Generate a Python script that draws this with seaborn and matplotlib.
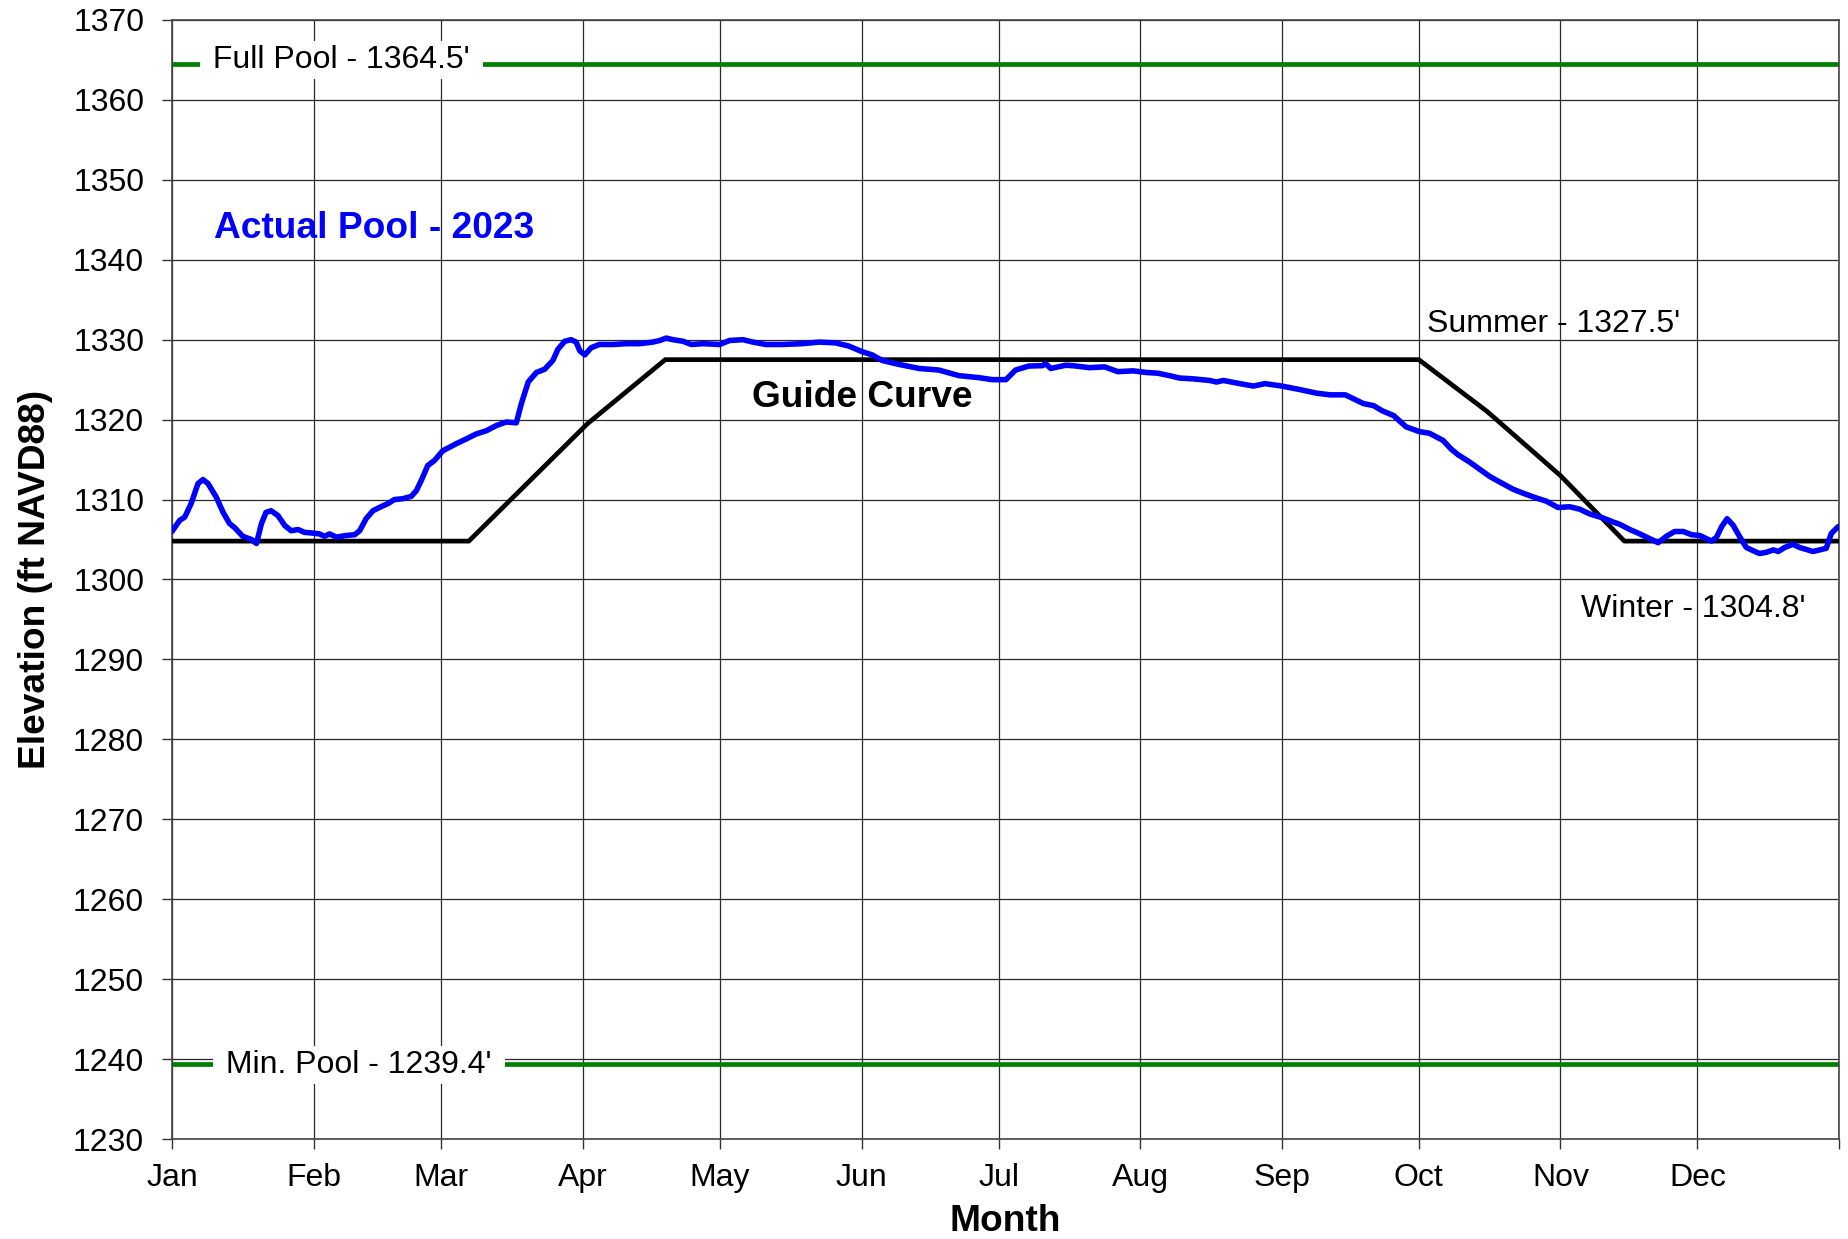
import matplotlib
matplotlib.use("Agg")
import matplotlib.pyplot as plt
import seaborn as sns
import pandas as pd

# month ticks (day of year, Jan 1 = 0)
months = ["Jan", "Feb", "Mar", "Apr", "May", "Jun", "Jul", "Aug", "Sep", "Oct", "Nov", "Dec"]
month_start = [0, 31, 59, 90, 120, 151, 181, 212, 243, 273, 304, 334, 365]

# guide curve
guide_day = [0, 65, 91, 108, 273, 288, 304, 318, 365]
guide_elev = [1304.8, 1304.8, 1319.5, 1327.5, 1327.5, 1321.0, 1313.0, 1304.8, 1304.8]

# actual pool 2023
pool_day = [0, 1.7, 2.8, 4.2, 5.7, 6.8, 7.9, 9.7, 11.2, 12.6, 13.7, 15.5, 17.4, 18.5, 19.6,
            20.6, 21.7, 23.2, 24.7, 26.1, 27.6, 29.0, 30.9, 32.3, 33.4, 34.5, 36.0, 38.1,
            40.0, 41.1, 42.5, 44.0, 45.4, 47.3, 48.7, 50.5, 52.4, 53.5, 54.6, 56.0, 57.5,
            59.3, 62.3, 64.5, 66.6, 68.8, 71.0, 73.2, 75.4, 76.5, 78.0, 79.8, 81.6, 83.4,
            84.5, 86.0, 87.4, 88.5, 89.3, 90.4, 91.8, 93.6, 96.6, 99.5, 102.4, 105.3, 106.8,
            108.2, 109.7, 111.9, 113.7, 116.3, 119.9, 122.1, 125.0, 127.2, 130.0, 133.6,
            138.0, 141.7, 145.3, 148.2, 151.1, 153.3, 155.5, 159.2, 163.6, 167.9, 172.3,
            176.7, 179.6, 182.6, 184.7, 187.6, 190.6, 191.3, 192.4, 195.7, 197.2, 200.9,
            204.2, 207.1, 210.4, 213.3, 215.9, 218.4, 220.6, 223.6, 227.2, 228.7, 230.2,
            233.8, 236.8, 239.3, 243.0, 247.0, 250.7, 253.6, 256.9, 258.7, 260.9, 263.1,
            265.0, 267.5, 270.2, 273.1, 275.3, 278.3, 280.1, 281.6, 284.1, 286.3, 288.5,
            290.7, 293.6, 295.8, 298.7, 300.9, 303.5, 306.0, 308.2, 310.4, 313.3, 315.5,
            317.0, 319.2, 321.4, 323.6, 325.4, 327.2, 329.0, 330.9, 332.7, 334.5, 337.1,
            338.2, 339.3, 340.5, 341.8, 343.3, 344.7, 346.2, 347.6, 349.1, 350.6, 351.7,
            353.1, 354.9, 356.4, 357.9, 359.3, 360.8, 362.2, 363.3, 364.8]
pool_elev = [1306.0, 1307.4, 1307.8, 1309.5, 1312.0, 1312.5, 1312.0, 1310.3, 1308.4, 1307.0,
             1306.5, 1305.4, 1305.0, 1304.5, 1307.0, 1308.4, 1308.6, 1308.0, 1306.75, 1306.1,
             1306.25, 1305.9, 1305.8, 1305.7, 1305.4, 1305.7, 1305.3, 1305.5, 1305.6, 1306.1,
             1307.6, 1308.6, 1309.0, 1309.5, 1310.0, 1310.1, 1310.4, 1311.1, 1312.4, 1314.25,
             1314.9, 1316.1, 1317.0, 1317.6, 1318.2, 1318.6, 1319.25, 1319.7, 1319.6, 1322.0,
             1324.7, 1325.9, 1326.3, 1327.4, 1328.8, 1329.8, 1330.0, 1329.7, 1328.6, 1328.1,
             1329.0, 1329.4, 1329.4, 1329.5, 1329.5, 1329.7, 1329.9, 1330.2, 1330.0, 1329.8,
             1329.4, 1329.5, 1329.4, 1329.9, 1330.0, 1329.7, 1329.4, 1329.4, 1329.5, 1329.7,
             1329.6, 1329.2, 1328.5, 1328.1, 1327.4, 1326.9, 1326.4, 1326.2, 1325.5, 1325.25,
             1325.0, 1325.0, 1326.2, 1326.7, 1326.75, 1327.0, 1326.4, 1326.8, 1326.75, 1326.5,
             1326.6, 1326.0, 1326.1, 1325.9, 1325.8, 1325.5, 1325.2, 1325.1, 1324.9, 1324.7,
             1324.9, 1324.5, 1324.2, 1324.5, 1324.2, 1323.75, 1323.3, 1323.1, 1323.1, 1322.6,
             1322.0, 1321.75, 1321.1, 1320.5, 1319.1, 1318.5, 1318.3, 1317.4, 1316.3, 1315.6,
             1314.7, 1313.8, 1312.9, 1312.2, 1311.3, 1310.8, 1310.2, 1309.8, 1309.0, 1309.1,
             1308.8, 1308.2, 1307.7, 1307.2, 1306.9, 1306.25, 1305.7, 1305.1, 1304.6, 1305.4,
             1306.0, 1306.0, 1305.6, 1305.5, 1304.8, 1305.3, 1306.6, 1307.6, 1306.8, 1305.3,
             1304.0, 1303.6, 1303.25, 1303.4, 1303.7, 1303.5, 1304.0, 1304.4, 1304.0, 1303.75,
             1303.5, 1303.7, 1303.9, 1305.75, 1306.6]

full_pool = 1364.5
min_pool = 1239.4

df = pd.DataFrame({"day": pool_day, "elev": pool_elev})

sns.set_style("white")
plt.rcParams['font.family'] = ['Liberation Sans', 'DejaVu Sans']
plt.rcParams['text.color'] = 'black'
plt.rcParams['axes.labelcolor'] = 'black'
plt.rcParams['xtick.color'] = 'black'
plt.rcParams['ytick.color'] = 'black'

fig = plt.figure(figsize=(18.49, 12.39), dpi=100)
ax = fig.add_axes([0.0930, 0.0807, 0.9016, 0.9032])

ax.axhline(full_pool, color='#008000', lw=3.4, zorder=2)
ax.axhline(min_pool, color='#008000', lw=3.4, zorder=2)
sns.lineplot(x=guide_day, y=guide_elev, color='black', lw=3.4, ax=ax, zorder=3)
sns.lineplot(data=df, x="day", y="elev", color='#0000ff', lw=4.0, ax=ax, zorder=4)

ax.set_xlim(0, 365)
ax.set_ylim(1230, 1370)
ax.set_xticks(month_start)
ax.set_xticklabels(months + [""])
ax.set_yticks(range(1230, 1371, 10))
ax.grid(True, color='#2a2a2a', lw=0.9)
ax.set_axisbelow(True)
ax.tick_params(direction='out', length=7, width=1, labelsize=23,
               color='#333333', bottom=True, left=True)
ax.tick_params(axis='x', pad=10)
ax.tick_params(axis='y', pad=13)
for s in ax.spines.values():
    s.set_color('#444444')
    s.set_linewidth(1.2)

ax.set_xlabel("Month", fontsize=26.7, fontweight='bold')
ax.xaxis.set_label_coords(0.5, -0.058)
ax.set_ylabel("Elevation (ft NAVD88)", fontsize=26.7, fontweight='bold')
ax.yaxis.set_label_coords(-0.0714, 0.5)

# annotations
box = dict(facecolor='white', edgecolor='none', pad=3)
ax.text(7.0, 1364.0, " Full Pool - 1364.5' ", fontsize=23, va='baseline', bbox=box, zorder=5)
ax.text(9.9, 1238.3, " Min. Pool - 1239.4' ", fontsize=23, va='baseline', bbox=box, zorder=5)
ax.text(9.1, 1342.7, "Actual Pool - 2023", fontsize=26.7, fontweight='bold',
        color='#0000ff', va='baseline', zorder=5)
ax.text(126.9, 1321.6, "Guide Curve", fontsize=26.7, fontweight='bold', va='baseline', zorder=5)
ax.text(274.7, 1331.0, "Summer - 1327.5'", fontsize=23, va='baseline', zorder=5)
ax.text(308.5, 1295.3, "Winter - 1304.8'", fontsize=23, va='baseline', zorder=5)

plt.savefig("out.png", dpi=100)
